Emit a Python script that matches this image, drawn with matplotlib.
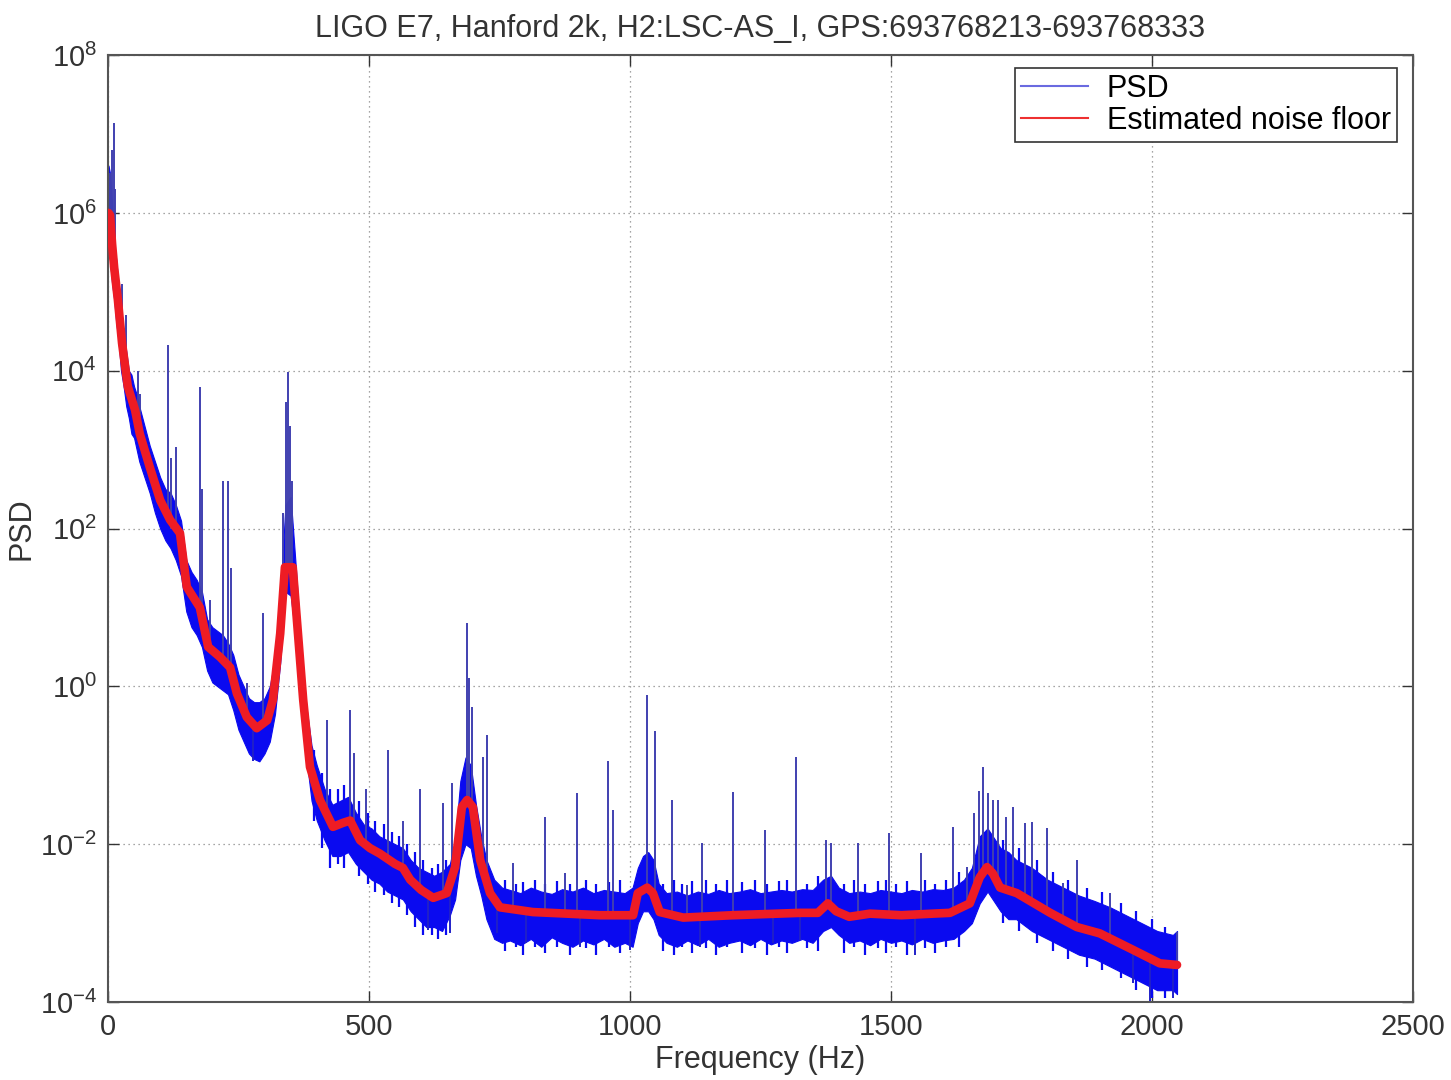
import numpy as np
import matplotlib
matplotlib.use('Agg')
import matplotlib.pyplot as plt
from matplotlib.lines import Line2D
from matplotlib.ticker import LogFormatterMathtext, NullLocator

plt.rcParams['font.family'] = ['Liberation Sans', 'DejaVu Sans']
plt.rcParams['mathtext.fontset'] = 'custom'
plt.rcParams['mathtext.rm'] = 'Liberation Sans'

# estimated noise floor (red), log10 of PSD
floor_f = [1, 4, 8, 12, 19, 27, 38, 52, 61, 80, 100, 119, 138, 151, 176, 192, 215, 234,
           247, 266, 285, 305, 316, 330, 339, 354, 364, 374, 387, 406, 431, 450, 464, 483,
           502, 521, 550, 565, 579, 600, 623, 649, 665, 678, 688, 699, 713, 732, 751, 814,
           880, 943, 1006, 1015, 1033, 1044, 1057, 1102, 1197, 1326, 1360, 1379, 1395, 1420,
           1460, 1520, 1580, 1613, 1651, 1670, 1684, 1695, 1709, 1741, 1805, 1856, 1900,
           1964, 2015, 2048]
floor_log = [6.0, 5.97, 5.6, 5.3, 4.9, 4.35, 3.8, 3.5, 3.2, 2.78, 2.36, 2.11, 1.94, 1.26,
             1.0, 0.5, 0.37, 0.24, -0.09, -0.39, -0.53, -0.43, -0.17, 0.67, 1.51, 1.51,
             0.67, -0.17, -1.02, -1.44, -1.78, -1.73, -1.70, -1.95, -2.05, -2.12, -2.25,
             -2.30, -2.45, -2.58, -2.68, -2.62, -2.29, -1.53, -1.44, -1.53, -2.2, -2.62,
             -2.80, -2.86, -2.88, -2.90, -2.90, -2.62, -2.55, -2.62, -2.86, -2.93, -2.90,
             -2.87, -2.87, -2.75, -2.85, -2.92, -2.88, -2.90, -2.88, -2.87, -2.75, -2.42,
             -2.29, -2.37, -2.55, -2.62, -2.87, -3.05, -3.13, -3.34, -3.51, -3.53]

# PSD band (blue), upper and lower envelope, log10
band_f = [1, 4, 8, 12, 16, 20, 25, 30, 35, 40, 45, 50, 55, 60, 70, 80, 90, 100, 110, 120,
          130, 140, 150, 160, 170, 180, 190, 200, 210, 220, 230, 240, 250, 260, 270, 280,
          290, 300, 310, 320, 330, 340, 350, 360, 370, 380, 390, 400, 415, 430, 445, 460,
          475, 490, 505, 520, 535, 550, 565, 580, 595, 610, 625, 640, 655, 665, 675, 685,
          695, 705, 715, 725, 740, 755, 770, 790, 810, 830, 850, 870, 890, 910, 930, 950,
          970, 990, 1005, 1015, 1025, 1035, 1045, 1055, 1070, 1090, 1110, 1130, 1150, 1170,
          1190, 1210, 1230, 1250, 1270, 1290, 1310, 1330, 1350, 1370, 1385, 1400, 1420,
          1440, 1460, 1480, 1500, 1520, 1540, 1560, 1580, 1600, 1620, 1640, 1655, 1670,
          1685, 1695, 1710, 1725, 1740, 1770, 1800, 1830, 1860, 1890, 1920, 1950, 1980,
          2010, 2040, 2048]
band_hi = [6.6, 6.5, 6.1, 5.6, 5.4, 5.1, 4.8, 4.45, 4.25, 4.0, 3.95, 3.8, 3.7, 3.55, 3.3,
           3.05, 2.85, 2.65, 2.5, 2.45, 2.3, 2.1, 1.6, 1.45, 1.35, 1.2, 0.85, 0.75, 0.7,
           0.65, 0.55, 0.4, 0.15, 0.0, -0.15, -0.2, -0.2, -0.15, 0.0, 0.35, 1.1, 2.3, 2.4,
           1.5, 0.5, -0.25, -0.75, -1.0, -1.3, -1.5, -1.45, -1.4, -1.6, -1.75, -1.8,
           -1.9, -1.95, -2.0, -2.05, -2.2, -2.3, -2.35, -2.4, -2.35, -2.25, -1.95, -1.2,
           -0.9, -1.0, -1.5, -1.9, -2.2, -2.45, -2.55, -2.58, -2.62, -2.55, -2.6, -2.63,
           -2.57, -2.6, -2.55, -2.62, -2.58, -2.6, -2.62, -2.55, -2.3, -2.15, -2.1, -2.2,
           -2.5, -2.62, -2.6, -2.65, -2.6, -2.63, -2.58, -2.62, -2.6, -2.57, -2.62, -2.6,
           -2.58, -2.6, -2.57, -2.58, -2.45, -2.4, -2.55, -2.62, -2.6, -2.62, -2.58, -2.6,
           -2.62, -2.58, -2.6, -2.57, -2.58, -2.55, -2.45, -2.3, -1.9, -1.8, -1.9, -2.05,
           -2.1, -2.2, -2.3, -2.45, -2.55, -2.65, -2.72, -2.8, -2.9, -3.0, -3.1, -3.15,
           -3.1]
band_lo = [5.5, 5.4, 5.1, 4.9, 4.6, 4.4, 4.0, 3.8, 3.55, 3.4, 3.2, 3.15, 3.0, 2.85, 2.65,
           2.45, 2.2, 2.0, 1.85, 1.75, 1.6, 1.4, 0.95, 0.75, 0.65, 0.5, 0.2, 0.05, 0.0,
           -0.05, -0.1, -0.3, -0.55, -0.7, -0.85, -0.92, -0.95, -0.85, -0.7, -0.35, 0.3,
           1.2, 1.15, 0.6, -0.25, -0.9, -1.45, -1.7, -1.95, -2.15, -2.15, -2.1, -2.25,
           -2.35, -2.45, -2.5, -2.6, -2.65, -2.7, -2.85, -2.95, -3.05, -3.05, -3.1, -2.9,
           -2.7, -2.2, -2.0, -2.05, -2.4, -2.65, -2.95, -3.2, -3.25, -3.22, -3.28, -3.2,
           -3.3, -3.18, -3.25, -3.3, -3.22, -3.27, -3.2, -3.3, -3.25, -3.3, -3.0, -2.85,
           -2.85, -2.95, -3.15, -3.25, -3.3, -3.22, -3.28, -3.2, -3.3, -3.25, -3.22, -3.28,
           -3.2, -3.27, -3.22, -3.25, -3.2, -3.25, -3.1, -3.05, -3.15, -3.25, -3.22, -3.28,
           -3.2, -3.25, -3.22, -3.27, -3.2, -3.25, -3.22, -3.2, -3.1, -3.0, -2.75, -2.6,
           -2.7, -2.85, -2.95, -2.95, -3.1, -3.2, -3.3, -3.4, -3.45, -3.55, -3.65, -3.75,
           -3.85, -3.85, -3.9]

# line spikes: frequency, top and base (log10)
spike_f = [4, 8, 12, 14, 27, 35, 57, 62, 115, 120, 130, 176, 180, 195, 221, 230, 236, 266,
           297, 335, 341, 344, 348, 352, 419, 464, 472, 495, 536, 565, 598, 642, 659, 688,
           692, 697, 718, 726, 776, 837, 875, 898, 958, 968, 1033, 1048, 1080, 1109, 1138,
           1197, 1259, 1318, 1375, 1385, 1437, 1496, 1557, 1619, 1646, 1660, 1669, 1676,
           1686, 1695, 1705, 1720, 1734, 1757, 1770, 1799, 1830, 1856, 1920, 2048]
spike_top = [6.5, 6.8, 7.14, 6.3, 5.1, 4.7, 4.0, 3.7, 4.33, 2.9, 3.03, 3.79, 2.5, 1.1,
             2.6, 2.6, 1.5, 0.04, 0.93, 2.2, 3.6, 3.98, 3.3, 2.6, -0.43, -0.30, -0.85,
             -1.3, -0.81, -1.70, -1.3, -1.48, -1.23, 0.80, 0.1, -0.26, -0.9, -0.62, -2.24,
             -1.66, -2.37, -1.35, -0.94, -1.57, -0.11, -0.56, -1.44, -2.52, -1.99, -1.34,
             -1.82, -0.90, -1.95, -1.99, -1.99, -1.86, -2.11, -1.78, -2.29, -1.6, -1.32,
             -1.02, -1.35, -1.44, -1.44, -1.65, -1.53, -1.73, -1.72, -1.80, -2.49, -2.20,
             -2.62, -3.11]
spike_base = [5.5, 5.6, 5.3, 5.0, 4.3, 3.9, 3.3, 3.1, 2.1, 2.0, 2.0, 1.0, 0.9, 0.5, 0.3,
              0.3, 0.2, -0.4, -0.45, 0.8, 1.5, 1.5, 1.5, 1.5, -1.6, -1.7, -1.8, -2.0,
              -2.15, -2.3, -2.55, -2.66, -2.5, -1.44, -1.45, -1.48, -2.3, -2.5, -2.85,
              -2.86, -2.87, -2.88, -2.89, -2.9, -2.55, -2.6, -2.92, -2.93, -2.93, -2.9,
              -2.88, -2.87, -2.75, -2.75, -2.9, -2.88, -2.88, -2.85, -2.8, -2.6, -2.45,
              -2.35, -2.3, -2.37, -2.5, -2.6, -2.62, -2.7, -2.74, -2.85, -2.96, -3.05,
              -3.19, -3.53]

# deep downward excursions of the PSD
dip_f = [278, 613, 655, 745, 800, 904, 1000, 1134, 1274, 1326, 1546, 1964, 1996, 2040]
dip_bot = [-0.95, -3.09, -3.13, -3.13, -3.25, -3.3, -3.34, -3.3, -3.25, -3.22, -3.41,
           -3.76, -4.0, -3.95]
dip_top = [-0.5, -2.6, -2.6, -2.8, -2.86, -2.88, -2.9, -2.93, -2.9, -2.87, -2.88, -3.34,
           -3.45, -3.53]

# short noise excursions at the band edges (log10 low / high)
fuzz_f = [395, 410, 425, 440, 452, 480, 498, 512, 528, 545, 558, 572, 588, 603, 620, 632,
          648, 760, 782, 795, 818, 838, 860, 885, 915, 935, 960, 980, 1063, 1085, 1100,
          1118, 1145, 1165, 1185, 1215, 1240, 1262, 1285, 1300, 1340, 1360, 1410, 1430,
          1450, 1475, 1490, 1510, 1530, 1565, 1585, 1605, 1630, 1715, 1745, 1780, 1810,
          1840, 1875, 1905, 1940, 1970, 2000, 2025]
fuzz_lo = [-1.7, -2.05, -2.3, -2.25, -2.3, -2.4, -2.5, -2.6, -2.65, -2.75, -2.8, -2.9,
           -3.05, -3.15, -3.15, -3.2, -3.15, -3.35, -3.3, -3.4, -3.3, -3.38, -3.3, -3.4,
           -3.32, -3.4, -3.3, -3.38, -3.35, -3.4, -3.3, -3.38, -3.32, -3.4, -3.3, -3.38,
           -3.32, -3.4, -3.3, -3.38, -3.32, -3.35, -3.38, -3.3, -3.4, -3.32, -3.38, -3.3,
           -3.4, -3.32, -3.38, -3.3, -3.3, -3.0, -3.1, -3.25, -3.35, -3.45, -3.55, -3.6,
           -3.7, -3.85, -3.95, -3.95]
fuzz_hi = [-0.8, -1.1, -1.3, -1.3, -1.25, -1.45, -1.6, -1.7, -1.75, -1.85, -1.9, -2.0,
           -2.1, -2.2, -2.3, -2.25, -2.2, -2.45, -2.5, -2.48, -2.45, -2.5, -2.47, -2.5,
           -2.45, -2.5, -2.48, -2.45, -2.5, -2.45, -2.5, -2.47, -2.45, -2.5, -2.45, -2.48,
           -2.45, -2.5, -2.47, -2.45, -2.5, -2.4, -2.5, -2.45, -2.5, -2.47, -2.45, -2.5,
           -2.47, -2.45, -2.5, -2.45, -2.35, -1.95, -2.05, -2.2, -2.35, -2.45, -2.55, -2.6,
           -2.75, -2.85, -2.95, -3.05]

fig = plt.figure(figsize=(14.51, 10.8), dpi=100)
ax = fig.add_axes([0.0744, 0.0722, 0.8994, 0.8768])

blue = '#0a0af0'
ax.fill_between(band_f, np.power(10.0, band_lo), np.power(10.0, band_hi),
                color=blue, linewidth=0.8, zorder=2)
ax.vlines(fuzz_f, np.power(10.0, fuzz_lo), np.power(10.0, fuzz_hi),
          color=blue, linewidth=1.6, zorder=2)
ax.vlines(dip_f, np.power(10.0, dip_bot), np.power(10.0, dip_top),
          color='#2020c8', linewidth=1.4, zorder=2)
ax.vlines(spike_f, np.power(10.0, spike_base), np.power(10.0, spike_top),
          color='#4040b0', linewidth=1.4, zorder=2)
ax.plot(floor_f, np.power(10.0, floor_log), color='#ee1c24', linewidth=6.2,
        solid_capstyle='round', solid_joinstyle='round', zorder=3)

ax.set_yscale('log')
ax.set_xlim(0, 2500)
ax.set_ylim(1e-4, 1e8)
ax.set_xticks([0, 500, 1000, 1500, 2000, 2500])
ax.set_yticks([1e-4, 1e-2, 1e0, 1e2, 1e4, 1e6, 1e8])
ax.yaxis.set_major_formatter(LogFormatterMathtext())
ax.yaxis.set_minor_locator(NullLocator())

ax.grid(True, which='major', linestyle=(0, (1, 3)), color='#888888', linewidth=0.9)
ax.tick_params(which='both', direction='in', top=True, right=True, length=8,
               width=1.0, labelsize=21, colors='#333333', pad=8)
for sp in ax.spines.values():
    sp.set_color('#555555')
    sp.set_linewidth(1.5)

ax.set_title('LIGO E7, Hanford 2k, H2:LSC-AS_I, GPS:693768213-693768333',
             fontsize=22, color='#333333', pad=13)
ax.set_xlabel('Frequency (Hz)', fontsize=22, color='#333333', labelpad=3)
ax.set_ylabel('PSD', fontsize=22, color='#333333', labelpad=2)

handles = [Line2D([], [], color='#6a6ae0', linewidth=1.5),
           Line2D([], [], color='#ee3030', linewidth=1.5)]
leg = ax.legend(handles, ['PSD', 'Estimated noise floor'], loc='upper right',
                bbox_to_anchor=(0.9877, 0.9863), fontsize=22, fancybox=False,
                framealpha=1, edgecolor='#333333', handlelength=2.2,
                borderpad=0.2, labelspacing=0.05, handletextpad=0.6,
                borderaxespad=0)
leg.get_frame().set_linewidth(1.2)

fig.savefig('out.png', dpi=100)
